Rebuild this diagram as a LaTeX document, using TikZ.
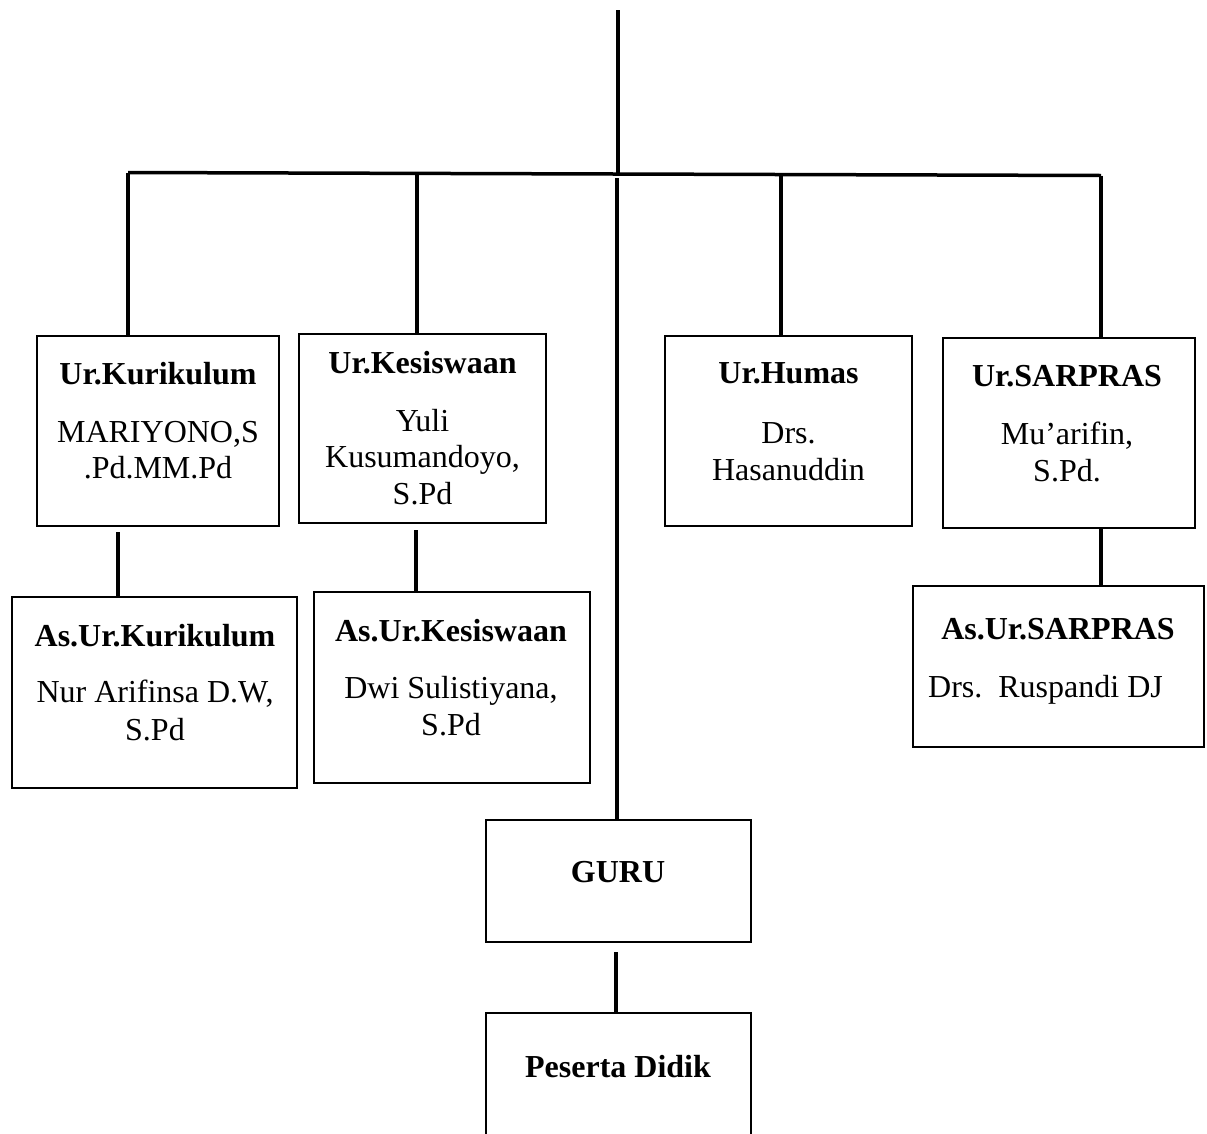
\documentclass[tikz,border=0pt]{standalone}
\usepackage{fontspec}
\setmainfont{Liberation Serif}
\frenchspacing
\begin{document}
\begin{tikzpicture}[x=1pt,y=-1pt,
  box/.style={draw, line width=2.5pt, inner sep=0pt},
  conn/.style={line width=3.5pt},
  ttl/.style={font=\fontsize{32}{36}\selectfont\bfseries, anchor=base, inner sep=0pt},
  txt/.style={font=\fontsize{32}{36}\selectfont, anchor=base, inner sep=0pt}]
\useasboundingbox (0,0) rectangle (1207,1133);

% boxes
\node[box, minimum width=242pt, minimum height=190pt] (kur) at (158,431) {};
\node[box, minimum width=247pt, minimum height=189pt] (kes) at (422.5,428.5) {};
\node[box, minimum width=247pt, minimum height=190pt] (hum) at (788.5,431) {};
\node[box, minimum width=252pt, minimum height=190pt] (sar) at (1069,433) {};
\node[box, minimum width=285pt, minimum height=191pt] (askur) at (154.5,692.5) {};
\node[box, minimum width=276pt, minimum height=191pt] (askes) at (452,687.5) {};
\node[box, minimum width=291pt, minimum height=161pt] (assar) at (1058.5,666.5) {};
\node[box, minimum width=265pt, minimum height=122pt] (guru) at (618.5,881) {};
\node[inner sep=0pt, minimum width=265pt, minimum height=122pt] (pes) at (618.5,1074) {};
\draw[line width=2.5pt] (pes.south west) -- (pes.north west) -- (pes.north east) -- (pes.south east);

% texts
\node[ttl] (kurT) at (158,384) {Ur.Kurikulum};
\node[txt] (kurL1) at (158,442) {MARIYONO,S};
\node[txt] (kurL2) at (158,478) {.Pd.MM.Pd};

\node[ttl] (kesT) at (422.5,373) {Ur.Kesiswaan};
\node[txt] (kesL1) at (422.5,431) {Yuli};
\node[txt] (kesL2) at (422.5,467) {Kusumandoyo,};
\node[txt] (kesL3) at (422.5,504) {S.Pd};

\node[ttl] (humT) at (788.5,383) {Ur.Humas};
\node[txt] (humL1) at (788.5,443) {Drs.};
\node[txt] (humL2) at (788.5,480) {Hasanuddin};

\node[ttl] (sarT) at (1067,386) {Ur.SARPRAS};
\node[txt] (sarL1) at (1067,444) {Mu’arifin,};
\node[txt] (sarL2) at (1067,481) {S.Pd.};

\node[ttl] (askurT) at (155,646) {As.Ur.Kurikulum};
\node[txt] (askurL1) at (155,702) {Nur Arifinsa D.W,};
\node[txt] (askurL2) at (155,740) {S.Pd};

\node[ttl] (askesT) at (451,641) {As.Ur.Kesiswaan};
\node[txt] (askesL1) at (451,698) {Dwi Sulistiyana,};
\node[txt] (askesL2) at (451,735) {S.Pd};

\node[ttl] (assarT) at (1058,639) {As.Ur.SARPRAS};
\node[txt] (assarL1) at (1045.5,697) {Drs.\ \ Ruspandi DJ};

\node[ttl] (guruT) at (618,882) {GURU};
\node[ttl] (pesT) at (618,1077) {Peserta Didik};

% connector coordinates
\coordinate (top) at (618,10);
\coordinate (hub) at (618,174);
\coordinate (busL) at (128,172.5);
\coordinate (busR) at (1101,175.5);
\coordinate (kesJ) at (417,173);
\coordinate (guruJ) at (617,178);
\coordinate (humJ) at (781,174.5);
\coordinate (kurA) at (118,532);
\coordinate (kesA) at (416,530);
\coordinate (sarA) at (1101,529);
\coordinate (guruA) at (616,952);

\draw[conn] (top) -- (hub);
\draw[conn] (busL) -- (busR);
\draw[conn] (busL) -- (busL |- kur.north);
\draw[conn] (kesJ) -- (kesJ |- kes.north);
\draw[conn] (guruJ) -- (guruJ |- guru.north);
\draw[conn] (humJ) -- (humJ |- hum.north);
\draw[conn] (busR) -- (busR |- sar.north);
\draw[conn] (kurA) -- (kurA |- askur.north);
\draw[conn] (kesA) -- (kesA |- askes.north);
\draw[conn] (sarA) -- (sarA |- assar.north);
\draw[conn] (guruA) -- (guruA |- pes.north);
\end{tikzpicture}
\end{document}
